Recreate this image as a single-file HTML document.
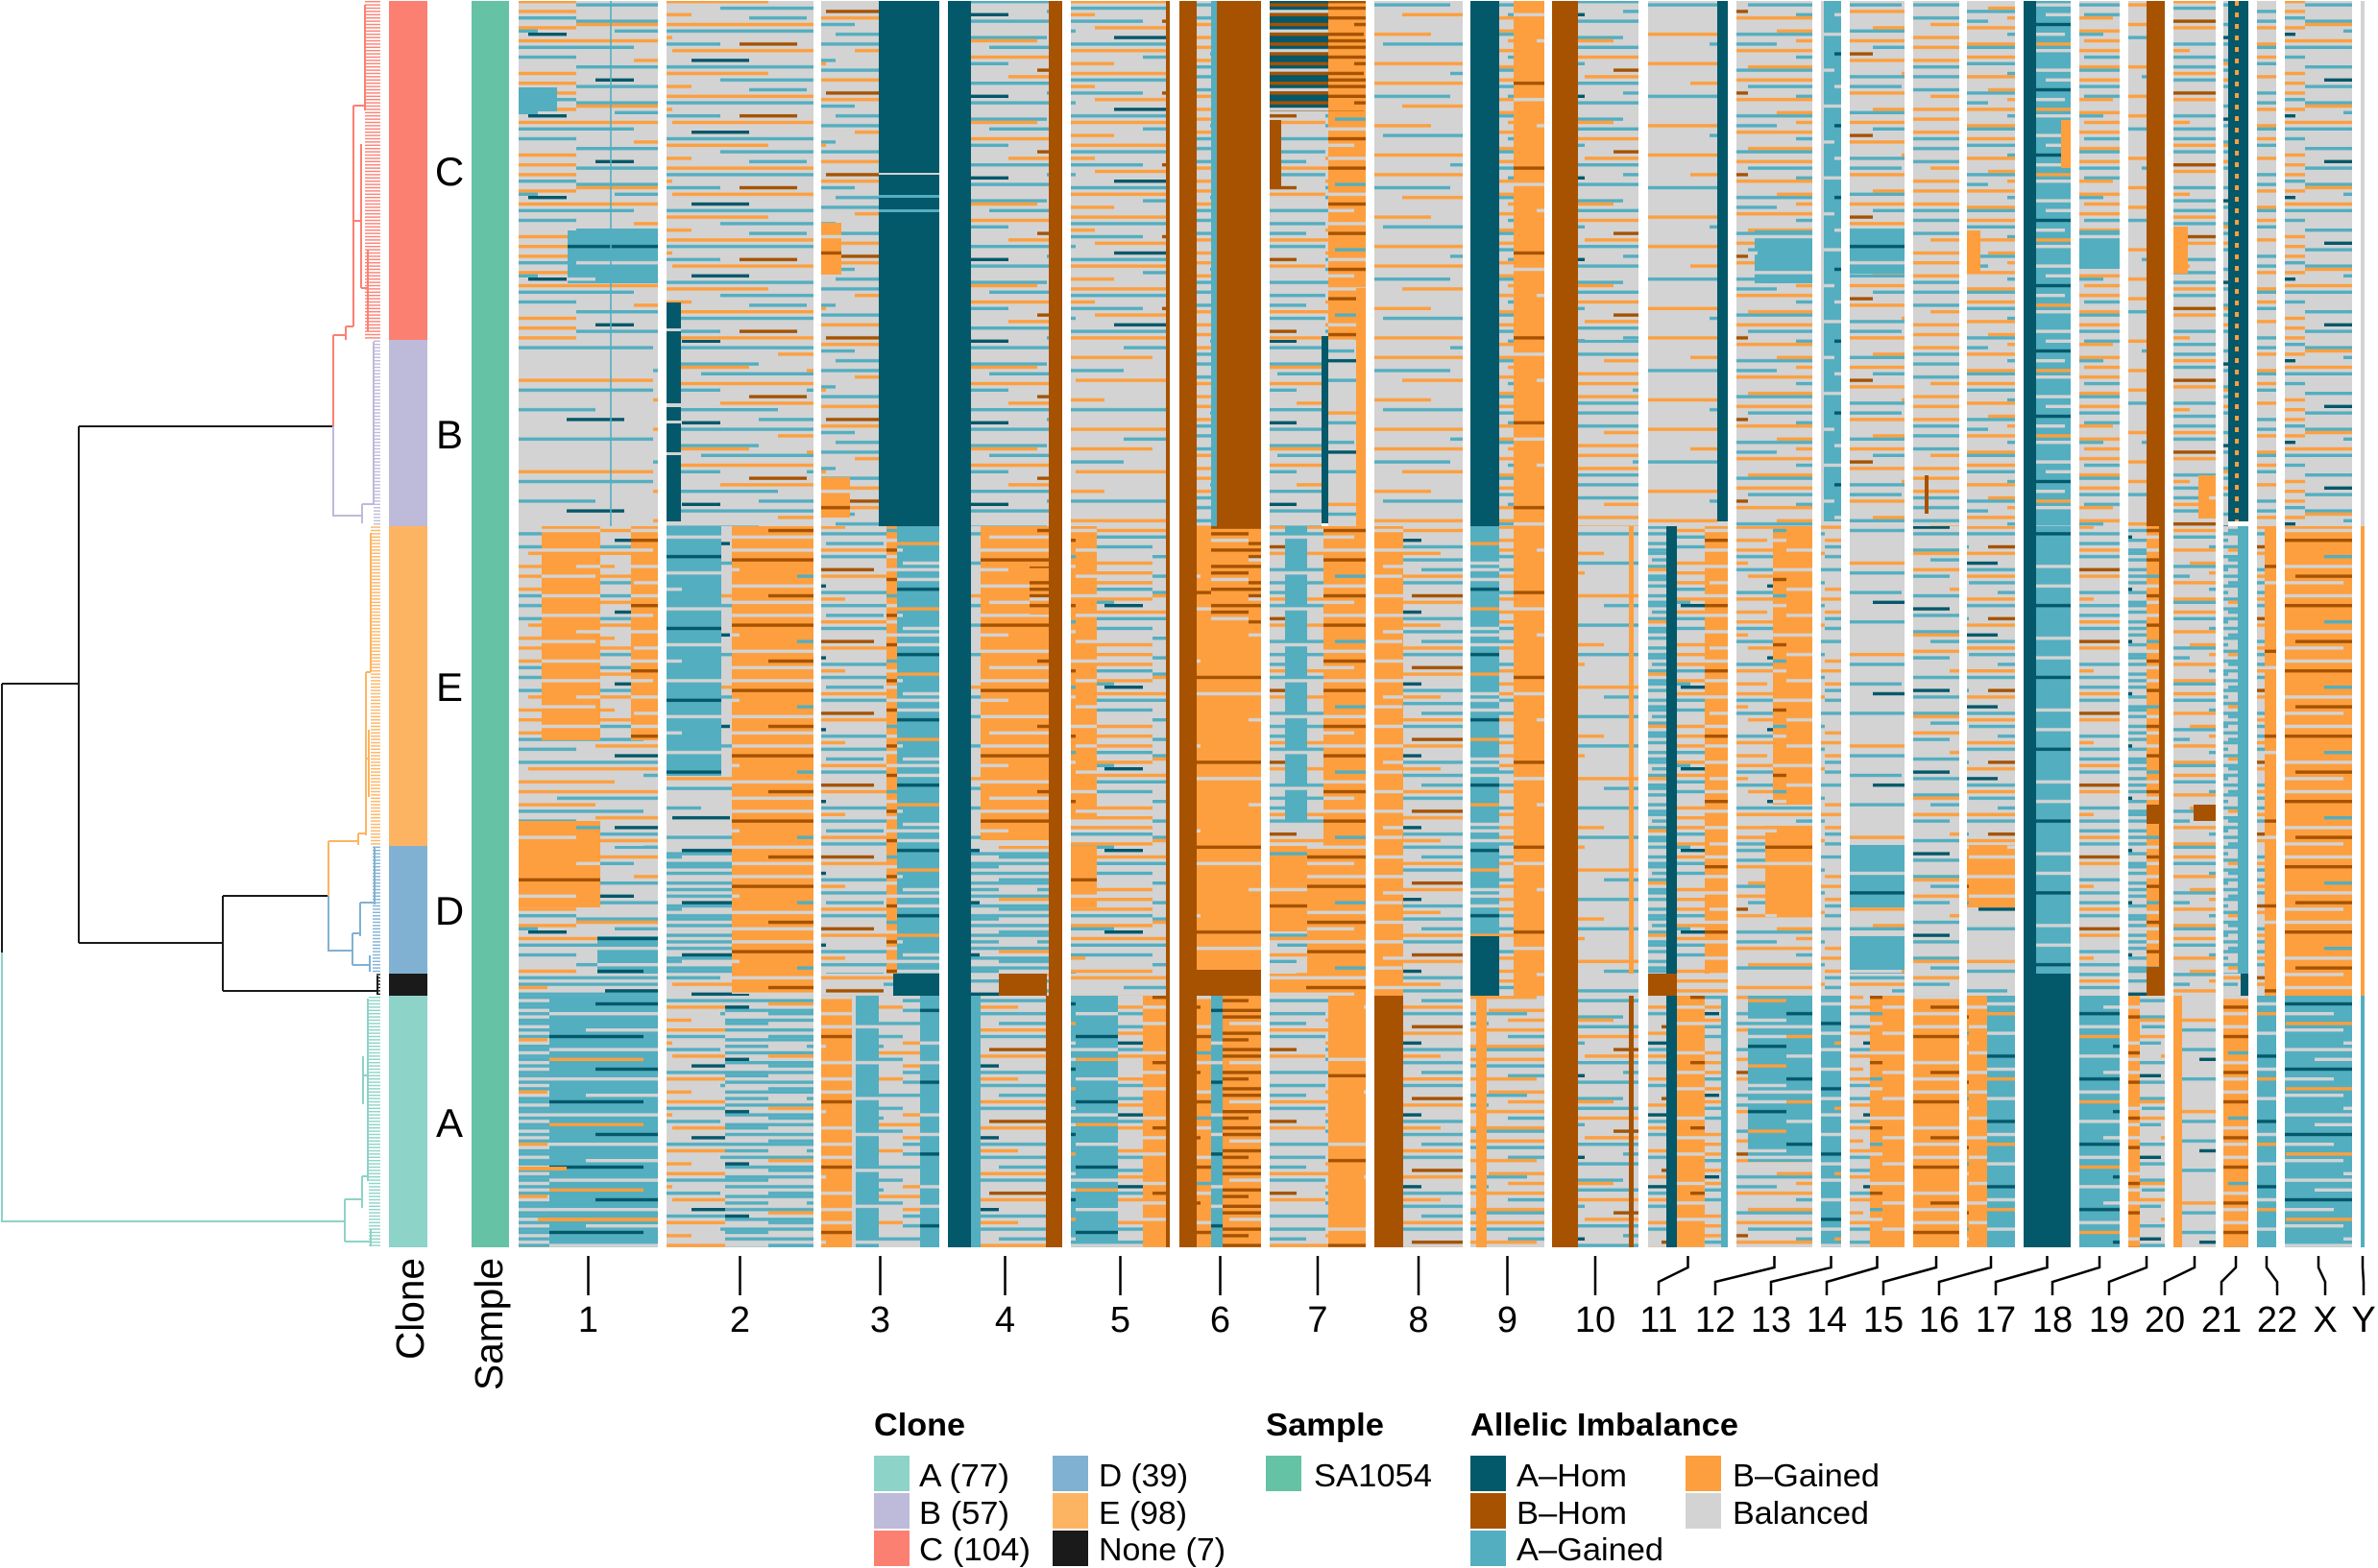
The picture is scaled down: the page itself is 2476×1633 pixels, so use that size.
<!DOCTYPE html>
<html><head><meta charset="utf-8"><style>
html,body{margin:0;padding:0;background:#fff;}
svg{display:block;}
text{font-family:"Liberation Sans",Arial,Helvetica,sans-serif;fill:#000;}
</style></head><body>
<svg xmlns="http://www.w3.org/2000/svg" xmlns:xlink="http://www.w3.org/1999/xlink" width="2476" height="1633" viewBox="0 0 2476 1633">
<defs>
<pattern id="g1" width="300" height="85" patternUnits="userSpaceOnUse">
<rect width="300" height="85" fill="#d3d3d3"/>
<rect x="200" y="0" width="100" height="3.4" fill="#fd9f3e"/>
<rect x="0" y="3.4" width="180" height="3.4" fill="#53aec0"/>
<rect x="120" y="10.2" width="180" height="3.4" fill="#fd9f3e"/>
<rect x="200" y="17" width="100" height="3.4" fill="#53aec0"/>
<rect x="0" y="20.4" width="100" height="3.4" fill="#53aec0"/>
<rect x="0" y="23.8" width="90" height="3.4" fill="#fd9f3e"/>
<rect x="150" y="27.2" width="150" height="3.4" fill="#fd9f3e"/>
<rect x="40" y="30.6" width="220" height="3.4" fill="#53aec0"/>
<rect x="250" y="34" width="40" height="3.4" fill="#03586a"/>
<rect x="0" y="40.8" width="300" height="3.4" fill="#fd9f3e"/>
<rect x="0" y="47.6" width="60" height="3.4" fill="#53aec0"/>
<rect x="150" y="47.6" width="150" height="3.4" fill="#53aec0"/>
<rect x="90" y="54.4" width="60" height="3.4" fill="#a65200"/>
<rect x="200" y="57.8" width="100" height="3.4" fill="#53aec0"/>
<rect x="60" y="61.2" width="170" height="3.4" fill="#fd9f3e"/>
<rect x="0" y="68" width="120" height="3.4" fill="#53aec0"/>
<rect x="180" y="74.8" width="120" height="3.4" fill="#fd9f3e"/>
<rect x="100" y="78.2" width="120" height="3.4" fill="#53aec0"/>
<rect x="20" y="81.6" width="40" height="3.4" fill="#03586a"/>
</pattern>
<pattern id="g2" width="260" height="74.8" patternUnits="userSpaceOnUse">
<rect width="260" height="74.8" fill="#d3d3d3"/>
<rect x="0" y="0" width="260" height="3.4" fill="#fd9f3e"/>
<rect x="60" y="6.8" width="200" height="3.4" fill="#53aec0"/>
<rect x="0" y="13.6" width="100" height="3.4" fill="#fd9f3e"/>
<rect x="0" y="20.4" width="150" height="3.4" fill="#53aec0"/>
<rect x="170" y="20.4" width="60" height="3.4" fill="#a65200"/>
<rect x="100" y="27.2" width="160" height="3.4" fill="#fd9f3e"/>
<rect x="0" y="30.6" width="80" height="3.4" fill="#53aec0"/>
<rect x="120" y="37.4" width="60" height="3.4" fill="#03586a"/>
<rect x="0" y="44.2" width="260" height="3.4" fill="#53aec0"/>
<rect x="30" y="51" width="170" height="3.4" fill="#fd9f3e"/>
<rect x="150" y="57.8" width="110" height="3.4" fill="#53aec0"/>
<rect x="0" y="64.6" width="120" height="3.4" fill="#fd9f3e"/>
<rect x="180" y="68" width="60" height="3.4" fill="#53aec0"/>
</pattern>
<pattern id="g3" width="340" height="95.2" patternUnits="userSpaceOnUse">
<rect width="340" height="95.2" fill="#d3d3d3"/>
<rect x="0" y="3.4" width="150" height="3.4" fill="#53aec0"/>
<rect x="100" y="13.6" width="240" height="3.4" fill="#fd9f3e"/>
<rect x="200" y="23.8" width="140" height="3.4" fill="#53aec0"/>
<rect x="0" y="34" width="130" height="3.4" fill="#fd9f3e"/>
<rect x="80" y="44.2" width="200" height="3.4" fill="#53aec0"/>
<rect x="250" y="54.4" width="60" height="3.4" fill="#03586a"/>
<rect x="0" y="64.6" width="200" height="3.4" fill="#fd9f3e"/>
<rect x="150" y="74.8" width="190" height="3.4" fill="#53aec0"/>
<rect x="60" y="85" width="120" height="3.4" fill="#fd9f3e"/>
</pattern>
<pattern id="o1" width="280" height="68" patternUnits="userSpaceOnUse">
<rect width="280" height="68" fill="#fd9f3e"/>
<rect x="0" y="6.8" width="280" height="3.4" fill="#d3d3d3"/>
<rect x="80" y="17" width="200" height="3.4" fill="#a65200"/>
<rect x="0" y="27.2" width="120" height="3.4" fill="#d3d3d3"/>
<rect x="180" y="34" width="100" height="3.4" fill="#53aec0"/>
<rect x="40" y="44.2" width="240" height="3.4" fill="#d3d3d3"/>
<rect x="0" y="54.4" width="60" height="3.4" fill="#d3d3d3"/>
<rect x="150" y="54.4" width="80" height="3.4" fill="#a65200"/>
<rect x="100" y="61.2" width="100" height="3.4" fill="#d3d3d3"/>
</pattern>
<pattern id="o2" width="300" height="88.4" patternUnits="userSpaceOnUse">
<rect width="300" height="88.4" fill="#fd9f3e"/>
<rect x="0" y="13.6" width="150" height="3.4" fill="#d3d3d3"/>
<rect x="0" y="30.6" width="300" height="3.4" fill="#a65200"/>
<rect x="120" y="47.6" width="180" height="3.4" fill="#d3d3d3"/>
<rect x="0" y="64.6" width="80" height="3.4" fill="#53aec0"/>
<rect x="200" y="74.8" width="100" height="3.4" fill="#d3d3d3"/>
</pattern>
<pattern id="b1" width="260" height="40.8" patternUnits="userSpaceOnUse">
<rect width="260" height="40.8" fill="#fd9f3e"/>
<rect x="0" y="0" width="260" height="3.4" fill="#a65200"/>
<rect x="0" y="6.8" width="170" height="3.4" fill="#a65200"/>
<rect x="0" y="10.2" width="80" height="3.4" fill="#d3d3d3"/>
<rect x="0" y="17" width="260" height="3.4" fill="#a65200"/>
<rect x="110" y="23.8" width="150" height="3.4" fill="#a65200"/>
<rect x="150" y="30.6" width="110" height="3.4" fill="#d3d3d3"/>
<rect x="0" y="34" width="120" height="3.4" fill="#a65200"/>
</pattern>
<pattern id="t1" width="280" height="68" patternUnits="userSpaceOnUse">
<rect width="280" height="68" fill="#53aec0"/>
<rect x="0" y="3.4" width="280" height="3.4" fill="#d3d3d3"/>
<rect x="0" y="13.6" width="110" height="3.4" fill="#fd9f3e"/>
<rect x="170" y="13.6" width="110" height="3.4" fill="#d3d3d3"/>
<rect x="60" y="23.8" width="220" height="3.4" fill="#03586a"/>
<rect x="0" y="34" width="190" height="3.4" fill="#d3d3d3"/>
<rect x="140" y="44.2" width="140" height="3.4" fill="#fd9f3e"/>
<rect x="50" y="51" width="150" height="3.4" fill="#d3d3d3"/>
<rect x="0" y="57.8" width="110" height="3.4" fill="#03586a"/>
<rect x="200" y="64.6" width="80" height="3.4" fill="#d3d3d3"/>
</pattern>
<pattern id="t2" width="260" height="74.8" patternUnits="userSpaceOnUse">
<rect width="260" height="74.8" fill="#53aec0"/>
<rect x="0" y="10.2" width="260" height="3.4" fill="#d3d3d3"/>
<rect x="0" y="30.6" width="170" height="3.4" fill="#03586a"/>
<rect x="80" y="47.6" width="180" height="3.4" fill="#d3d3d3"/>
<rect x="0" y="64.6" width="100" height="3.4" fill="#d3d3d3"/>
</pattern>
<pattern id="m1" width="240" height="54.4" patternUnits="userSpaceOnUse">
<rect width="240" height="54.4" fill="#d3d3d3"/>
<rect x="0" y="0" width="240" height="3.4" fill="#53aec0"/>
<rect x="0" y="3.4" width="150" height="3.4" fill="#53aec0"/>
<rect x="0" y="10.2" width="240" height="3.4" fill="#53aec0"/>
<rect x="60" y="13.6" width="180" height="3.4" fill="#53aec0"/>
<rect x="0" y="20.4" width="240" height="3.4" fill="#53aec0"/>
<rect x="0" y="27.2" width="100" height="3.4" fill="#53aec0"/>
<rect x="0" y="30.6" width="240" height="3.4" fill="#53aec0"/>
<rect x="40" y="37.4" width="200" height="3.4" fill="#53aec0"/>
<rect x="0" y="44.2" width="240" height="3.4" fill="#53aec0"/>
<rect x="0" y="47.6" width="90" height="3.4" fill="#fd9f3e"/>
<rect x="150" y="51" width="70" height="3.4" fill="#03586a"/>
</pattern>
<pattern id="k1" width="300" height="20.4" patternUnits="userSpaceOnUse">
<rect width="300" height="20.4" fill="#03586a"/>
<rect x="0" y="3.4" width="300" height="3.4" fill="#a65200"/>
<rect x="60" y="10.2" width="240" height="3.4" fill="#d3d3d3"/>
<rect x="0" y="13.6" width="190" height="3.4" fill="#a65200"/>
</pattern>
<pattern id="g1a" xlink:href="#g1" patternTransform="translate(90,17)"/>
<pattern id="g1b" xlink:href="#g1" patternTransform="translate(170,40.8)"/>
<pattern id="g2a" xlink:href="#g2" patternTransform="translate(80,23.8)"/>
<pattern id="g2b" xlink:href="#g2" patternTransform="translate(160,47.6)"/>
<pattern id="g3a" xlink:href="#g3" patternTransform="translate(110,34)"/>
<pattern id="g3b" xlink:href="#g3" patternTransform="translate(220,61.2)"/>
<pattern id="o1a" xlink:href="#o1" patternTransform="translate(90,20.4)"/>
<pattern id="o1b" xlink:href="#o1" patternTransform="translate(180,40.8)"/>
<pattern id="o2a" xlink:href="#o2" patternTransform="translate(100,27.2)"/>
<pattern id="o2b" xlink:href="#o2" patternTransform="translate(200,54.4)"/>
<pattern id="t1a" xlink:href="#t1" patternTransform="translate(90,20.4)"/>
<pattern id="t1b" xlink:href="#t1" patternTransform="translate(180,44.2)"/>
<pattern id="t2a" xlink:href="#t2" patternTransform="translate(90,23.8)"/>
<pattern id="t2b" xlink:href="#t2" patternTransform="translate(170,47.6)"/>
<pattern id="m1a" xlink:href="#m1" patternTransform="translate(80,17)"/>
<pattern id="m1b" xlink:href="#m1" patternTransform="translate(160,34)"/>
<pattern id="b1a" xlink:href="#b1" patternTransform="translate(90,13.6)"/>
<pattern id="lC" width="20" height="3.4" patternUnits="userSpaceOnUse"><rect y="1" width="20" height="1.4" fill="#fb8072"/></pattern>
<pattern id="lB" width="20" height="3.4" patternUnits="userSpaceOnUse"><rect y="1" width="20" height="1.4" fill="#bebada"/></pattern>
<pattern id="lE" width="20" height="3.4" patternUnits="userSpaceOnUse"><rect y="1" width="20" height="1.4" fill="#fdb462"/></pattern>
<pattern id="lD" width="20" height="3.4" patternUnits="userSpaceOnUse"><rect y="1" width="20" height="1.4" fill="#80b1d3"/></pattern>
<pattern id="lA" width="20" height="3.4" patternUnits="userSpaceOnUse"><rect y="1" width="20" height="1.4" fill="#8dd3c7"/></pattern>
<pattern id="lN" width="20" height="3.4" patternUnits="userSpaceOnUse"><rect y="1" width="20" height="1.4" fill="#1a1a1a"/></pattern>
</defs>

<!-- Dendrogram -->
<g fill="none" stroke-width="2">
<path stroke="#1a1a1a" d="M2,712 V992 M2,712 H82 M82,444 V982 M82,444 H347 M82,982 H232 M232,933 V1032 M232,933 H342 M232,1032 H393"/>
<path stroke="#8dd3c7" d="M2,992 V1272 H359 M359,1249 V1293 M359,1249 H377 M377,1225 V1258 M377,1225 H383 M383,1040 V1230 M359,1293 H386 M386,1280 V1298 M383,1120 H378 M378,1100 V1150"/>
<path stroke="#fb8072" d="M347,349 V444 M347,349 H360 M360,340 V354 M360,340 H368 M368,110 V340 M368,110 H380 M380,5 V115 M368,230 H376 M376,150 V300 M376,300 H383 M383,260 V345"/>
<path stroke="#bebada" d="M347,444 V537 H377 M377,525 V545 M377,525 H389 M389,356 V525"/>
<path stroke="#fdb462" d="M342,876 V933 M342,876 H373 M373,868 V880 M373,868 H381 M381,700 V870 M381,700 H386 M386,555 V700 M381,790 H384 M384,760 V830"/>
<path stroke="#80b1d3" d="M342,933 V990 H367 M367,972 V1005 M367,972 H375 M375,940 V975 M375,940 H390 M390,883 V942 M367,1005 H385 M385,995 V1012"/>
<path stroke="#1a1a1a" d="M393,1016 V1035"/>
</g>
<rect x="380" y="1" width="16" height="353" fill="url(#lC)"/>
<rect x="389" y="354" width="7" height="194" fill="url(#lB)"/>
<rect x="386" y="548" width="10" height="333" fill="url(#lE)"/>
<rect x="388" y="881" width="8" height="133" fill="url(#lD)"/>
<rect x="392" y="1014" width="4" height="23" fill="url(#lN)"/>
<rect x="384" y="1037" width="12" height="262" fill="url(#lA)"/>

<!-- Clone bar -->
<rect x="405" y="1" width="40" height="353" fill="#fb8072"/>
<rect x="405" y="354" width="40" height="194" fill="#bebada"/>
<rect x="405" y="548" width="40" height="333" fill="#fdb462"/>
<rect x="405" y="881" width="40" height="133" fill="#80b1d3"/>
<rect x="405" y="1014" width="40" height="23" fill="#1a1a1a"/>
<rect x="405" y="1037" width="40" height="262" fill="#8dd3c7"/>
<!-- Sample bar -->
<rect x="491" y="1" width="39" height="1298" fill="#66c2a5"/>

<!-- Clone letters -->
<g font-size="42" text-anchor="middle">
<text x="468" y="193">C</text>
<text x="468" y="467">B</text>
<text x="468" y="730">E</text>
<text x="468" y="963">D</text>
<text x="468" y="1184">A</text>
</g>

<!-- Heatmap -->
<g>
<!-- chr1 -->
<rect x="540" y="1" width="145" height="353" fill="url(#g1)"/>
<rect x="540" y="91" width="40" height="25" fill="#53aec0"/>
<rect x="591" y="240" width="94" height="55" fill="url(#t2)"/>
<rect x="540" y="354" width="145" height="194" fill="url(#g3)"/>
<rect x="635" y="1" width="2" height="547" fill="#53aec0" opacity=".8"/>
<rect x="540" y="548" width="145" height="333" fill="url(#g2)"/>
<rect x="564" y="548" width="61" height="223" fill="url(#o1)"/>
<rect x="657" y="548" width="28" height="223" fill="url(#o1)"/>
<rect x="540" y="881" width="145" height="133" fill="url(#g1)"/>
<rect x="540" y="855" width="85" height="90" fill="url(#o2)"/>
<rect x="622" y="975" width="63" height="39" fill="url(#t1)"/>
<rect x="540" y="1014" width="145" height="23" fill="url(#m1)"/>
<rect x="540" y="1037" width="145" height="262" fill="url(#t1)"/>
<rect x="540" y="1037" width="32" height="262" fill="url(#m1)"/>
<rect x="540" y="1215" width="50" height="4" fill="#fd9f3e"/>
<rect x="560" y="1268" width="125" height="4" fill="#fd9f3e"/>
<!-- chr2 -->
<rect x="694" y="1" width="153" height="353" fill="url(#g2a)"/>
<rect x="694" y="354" width="153" height="194" fill="url(#g1a)"/>
<rect x="694" y="315" width="15" height="228" fill="#03586a"/>
<rect x="694" y="342" width="15" height="3" fill="#d3d3d3"/>
<rect x="694" y="420" width="15" height="4" fill="#d3d3d3"/>
<rect x="694" y="438" width="15" height="3" fill="#d3d3d3"/>
<rect x="694" y="471" width="15" height="3" fill="#d3d3d3"/>
<rect x="694" y="548" width="153" height="333" fill="url(#g3a)"/>
<rect x="694" y="881" width="153" height="133" fill="url(#m1a)"/>
<rect x="694" y="1014" width="153" height="23" fill="url(#g2a)"/>
<rect x="694" y="548" width="57" height="260" fill="url(#t2a)"/>
<rect x="762" y="548" width="85" height="487" fill="url(#o1a)"/>
<rect x="694" y="1037" width="61" height="262" fill="url(#g2a)"/>
<rect x="755" y="1037" width="92" height="262" fill="url(#m1a)"/>
<!-- chr3 -->
<rect x="855" y="1" width="60" height="547" fill="url(#g1b)"/>
<rect x="855" y="232" width="21" height="54" fill="url(#o2b)"/>
<rect x="855" y="497" width="30" height="42" fill="url(#o2b)"/>
<rect x="915" y="1" width="63" height="547" fill="#03586a"/>
<rect x="915" y="180" width="63" height="2" fill="#d3d3d3"/>
<rect x="915" y="203" width="63" height="3" fill="#53aec0"/>
<rect x="915" y="218" width="63" height="3" fill="#53aec0"/>
<rect x="855" y="548" width="68" height="466" fill="url(#g2b)"/>
<rect x="923" y="548" width="11" height="466" fill="url(#o1b)"/>
<rect x="934" y="548" width="44" height="466" fill="url(#t1b)"/>
<rect x="855" y="1014" width="75" height="23" fill="url(#g1b)"/>
<rect x="930" y="1014" width="48" height="23" fill="#03586a"/>
<rect x="855" y="1037" width="32" height="262" fill="url(#o1b)"/>
<rect x="887" y="1037" width="4" height="262" fill="#d3d3d3"/>
<rect x="891" y="1037" width="24" height="262" fill="url(#t2b)"/>
<rect x="915" y="1037" width="43" height="262" fill="url(#g2b)"/>
<rect x="958" y="1037" width="20" height="262" fill="url(#t2b)"/>
<!-- chr4 -->
<rect x="987" y="1" width="24" height="1298" fill="#03586a"/>
<rect x="1011" y="1" width="81" height="547" fill="url(#g1a)"/>
<rect x="1011" y="548" width="81" height="333" fill="url(#g3a)"/>
<rect x="1021" y="548" width="71" height="327" fill="url(#o1a)"/>
<rect x="1072" y="590" width="20" height="50" fill="url(#b1)"/>
<rect x="1011" y="881" width="81" height="133" fill="url(#m1a)"/>
<rect x="1011" y="1014" width="81" height="23" fill="url(#g1a)"/>
<rect x="1040" y="1014" width="50" height="23" fill="#a65200"/>
<rect x="1011" y="1037" width="10" height="262" fill="#53aec0"/>
<rect x="1021" y="1037" width="68" height="262" fill="url(#g2a)"/>
<rect x="1092" y="1" width="14" height="1036" fill="#a65200"/>
<rect x="1089" y="1037" width="17" height="262" fill="#a65200"/>
<!-- chr5 -->
<rect x="1115" y="1" width="99" height="353" fill="url(#g2)"/>
<rect x="1115" y="354" width="99" height="194" fill="url(#g3)"/>
<rect x="1115" y="548" width="99" height="466" fill="url(#g1)"/>
<rect x="1115" y="548" width="27" height="302" fill="url(#o1)"/>
<rect x="1115" y="881" width="27" height="64" fill="url(#o2)"/>
<rect x="1115" y="1014" width="99" height="23" fill="url(#g3)"/>
<rect x="1115" y="1037" width="49" height="262" fill="url(#t1)"/>
<rect x="1164" y="1037" width="26" height="262" fill="url(#g2)"/>
<rect x="1190" y="1037" width="24" height="262" fill="url(#o1)"/>
<rect x="1214" y="1" width="4" height="1298" fill="#a65200"/>
<!-- chr6 -->
<rect x="1228" y="1" width="18" height="1298" fill="#a65200"/>
<rect x="1246" y="1" width="15" height="547" fill="url(#g2b)"/>
<rect x="1261" y="1" width="6" height="547" fill="#53aec0"/>
<rect x="1267" y="1" width="46" height="547" fill="#a65200"/>
<rect x="1246" y="548" width="67" height="466" fill="url(#o2b)"/>
<rect x="1261" y="548" width="52" height="102" fill="url(#b1)"/>
<rect x="1246" y="1010" width="67" height="27" fill="#a65200"/>
<rect x="1246" y="1037" width="15" height="262" fill="url(#o1b)"/>
<rect x="1261" y="1037" width="12" height="262" fill="url(#t2b)"/>
<rect x="1273" y="1037" width="40" height="262" fill="url(#b1a)"/>
<!-- chr7 -->
<rect x="1322" y="1" width="61" height="353" fill="url(#g2a)"/>
<rect x="1383" y="1" width="39" height="547" fill="url(#o1a)"/>
<rect x="1322" y="1" width="61" height="115" fill="url(#k1)"/>
<rect x="1383" y="1" width="39" height="115" fill="url(#b1)"/>
<rect x="1322" y="125" width="12" height="70" fill="#a65200"/>
<rect x="1322" y="354" width="54" height="194" fill="url(#g1a)"/>
<rect x="1376" y="350" width="7" height="195" fill="#03586a"/>
<rect x="1383" y="354" width="29" height="194" fill="url(#g3a)"/>
<rect x="1412" y="300" width="10" height="248" fill="#fd9f3e"/>
<rect x="1322" y="548" width="100" height="333" fill="url(#g2a)"/>
<rect x="1338" y="548" width="23" height="312" fill="url(#t2a)"/>
<rect x="1378" y="548" width="44" height="333" fill="url(#o1a)"/>
<rect x="1322" y="881" width="100" height="133" fill="url(#g1a)"/>
<rect x="1322" y="881" width="39" height="89" fill="url(#o2a)"/>
<rect x="1361" y="881" width="61" height="133" fill="url(#o1a)"/>
<rect x="1322" y="1014" width="100" height="23" fill="url(#o1a)"/>
<rect x="1322" y="1037" width="61" height="262" fill="url(#g2a)"/>
<rect x="1383" y="1037" width="39" height="262" fill="url(#o2a)"/>
<!-- chr8 -->
<rect x="1431" y="1" width="92" height="547" fill="url(#g3)"/>
<rect x="1431" y="548" width="92" height="489" fill="url(#g2)"/>
<rect x="1431" y="548" width="30" height="489" fill="url(#o1)"/>
<rect x="1431" y="1037" width="30" height="262" fill="#a65200"/>
<rect x="1461" y="1037" width="62" height="262" fill="url(#g2)"/>
<!-- chr9 -->
<rect x="1531" y="1" width="30" height="547" fill="#03586a"/>
<rect x="1561" y="1" width="15" height="547" fill="url(#g1b)"/>
<rect x="1576" y="1" width="32" height="1036" fill="url(#o2b)"/>
<rect x="1531" y="548" width="30" height="427" fill="url(#t1b)"/>
<rect x="1561" y="548" width="15" height="489" fill="url(#g2b)"/>
<rect x="1531" y="975" width="30" height="62" fill="#03586a"/>
<rect x="1531" y="1037" width="77" height="262" fill="url(#g1b)"/>
<rect x="1537" y="1037" width="11" height="262" fill="#fd9f3e"/>
<!-- chr10 -->
<rect x="1616" y="1" width="27" height="1298" fill="#a65200"/>
<rect x="1643" y="1" width="63" height="353" fill="url(#g1a)"/>
<rect x="1643" y="354" width="63" height="194" fill="url(#g2a)"/>
<rect x="1643" y="548" width="63" height="489" fill="url(#g3a)"/>
<rect x="1643" y="1037" width="63" height="262" fill="url(#g1a)"/>
<rect x="1696" y="548" width="5" height="466" fill="#fd9f3e"/>
<rect x="1696" y="1037" width="5" height="262" fill="#a65200"/>
<!-- chr11 -->
<rect x="1716" y="1" width="72" height="547" fill="url(#g3)"/>
<rect x="1788" y="1" width="11" height="542" fill="#03586a"/>
<rect x="1788" y="543" width="11" height="5" fill="#d3d3d3"/>
<rect x="1716" y="548" width="19" height="466" fill="url(#m1)"/>
<rect x="1735" y="548" width="11" height="466" fill="#03586a"/>
<rect x="1746" y="548" width="29" height="466" fill="url(#g1)"/>
<rect x="1775" y="548" width="24" height="466" fill="url(#o1)"/>
<rect x="1716" y="1014" width="30" height="23" fill="#a65200"/>
<rect x="1746" y="1014" width="53" height="23" fill="url(#g1)"/>
<rect x="1716" y="1037" width="19" height="262" fill="url(#g2)"/>
<rect x="1735" y="1037" width="11" height="262" fill="#03586a"/>
<rect x="1746" y="1037" width="29" height="262" fill="url(#o1)"/>
<rect x="1775" y="1037" width="17" height="262" fill="url(#g1)"/>
<rect x="1792" y="1037" width="7" height="262" fill="#53aec0"/>
<!-- chr12 -->
<rect x="1808" y="1" width="79" height="547" fill="url(#g1b)"/>
<rect x="1827" y="240" width="60" height="55" fill="url(#t2b)"/>
<rect x="1808" y="548" width="79" height="333" fill="url(#g2b)"/>
<rect x="1846" y="548" width="41" height="290" fill="url(#o1b)"/>
<rect x="1808" y="881" width="79" height="133" fill="url(#g1b)"/>
<rect x="1838" y="860" width="49" height="95" fill="url(#o2b)"/>
<rect x="1808" y="1014" width="79" height="23" fill="url(#g3b)"/>
<rect x="1808" y="1037" width="79" height="262" fill="url(#g1b)"/>
<rect x="1820" y="1037" width="67" height="173" fill="url(#t1b)"/>
<!-- chr13 -->
<rect x="1896" y="1" width="21" height="542" fill="url(#t2a)"/>
<rect x="1896" y="1" width="3" height="542" fill="#d3d3d3"/>
<rect x="1896" y="543" width="21" height="494" fill="url(#g2a)"/>
<rect x="1896" y="1037" width="21" height="262" fill="url(#t1a)"/>
<!-- chr14 -->
<rect x="1926" y="1" width="57" height="547" fill="url(#g1)"/>
<rect x="1926" y="236" width="57" height="49" fill="url(#t2)"/>
<rect x="1926" y="548" width="57" height="333" fill="url(#g3)"/>
<rect x="1926" y="881" width="57" height="133" fill="url(#g1)"/>
<rect x="1926" y="880" width="57" height="65" fill="url(#t2)"/>
<rect x="1926" y="975" width="57" height="35" fill="#53aec0"/>
<rect x="1926" y="1014" width="57" height="23" fill="url(#g2)"/>
<rect x="1926" y="1037" width="21" height="262" fill="url(#g2)"/>
<rect x="1947" y="1037" width="36" height="262" fill="url(#o1)"/>
<!-- chr15 -->
<rect x="1992" y="1" width="48" height="547" fill="url(#g2b)"/>
<rect x="2004" y="495" width="4" height="40" fill="#a65200"/>
<rect x="1992" y="548" width="48" height="489" fill="url(#g1b)"/>
<rect x="1992" y="1037" width="48" height="262" fill="url(#o1b)"/>
<!-- chr16 -->
<rect x="2048" y="1" width="50" height="547" fill="url(#g1a)"/>
<rect x="2048" y="240" width="14" height="45" fill="#fd9f3e"/>
<rect x="2048" y="548" width="50" height="333" fill="url(#g2a)"/>
<rect x="2048" y="881" width="50" height="156" fill="url(#g3a)"/>
<rect x="2048" y="880" width="50" height="65" fill="url(#o1a)"/>
<rect x="2048" y="1037" width="21" height="262" fill="url(#o1a)"/>
<rect x="2069" y="1037" width="29" height="262" fill="url(#t1a)"/>
<!-- chr17 -->
<rect x="2107" y="1" width="13" height="1298" fill="#03586a"/>
<rect x="2120" y="1" width="36" height="547" fill="url(#t1)"/>
<rect x="2146" y="125" width="10" height="50" fill="#fd9f3e"/>
<rect x="2120" y="548" width="36" height="466" fill="url(#t2)"/>
<rect x="2107" y="1014" width="49" height="285" fill="#03586a"/>
<!-- chr18 -->
<rect x="2165" y="1" width="42" height="547" fill="url(#g1b)"/>
<rect x="2165" y="240" width="42" height="40" fill="url(#t2b)"/>
<rect x="2165" y="548" width="42" height="489" fill="url(#g2b)"/>
<rect x="2165" y="1037" width="42" height="262" fill="url(#t1b)"/>
<!-- chr19 -->
<rect x="2216" y="1" width="19" height="547" fill="url(#g3a)"/>
<rect x="2235" y="1" width="19" height="547" fill="#a65200"/>
<rect x="2216" y="548" width="19" height="466" fill="url(#m1a)"/>
<rect x="2235" y="548" width="13" height="466" fill="url(#o1a)"/>
<rect x="2248" y="548" width="6" height="466" fill="#a65200"/>
<rect x="2235" y="838" width="19" height="20" fill="#a65200"/>
<rect x="2216" y="1014" width="19" height="23" fill="url(#g1a)"/>
<rect x="2235" y="1007" width="19" height="30" fill="#a65200"/>
<rect x="2216" y="1037" width="38" height="262" fill="url(#g1a)"/>
<rect x="2216" y="1037" width="12" height="262" fill="url(#o1a)"/>
<!-- chr20 -->
<rect x="2263" y="1" width="44" height="547" fill="url(#g2)"/>
<rect x="2263" y="236" width="15" height="49" fill="url(#o2)"/>
<rect x="2289" y="495" width="18" height="45" fill="url(#o2)"/>
<rect x="2263" y="548" width="44" height="489" fill="url(#g1)"/>
<rect x="2284" y="838" width="23" height="17" fill="#a65200"/>
<rect x="2263" y="1037" width="44" height="262" fill="url(#g3)"/>
<rect x="2263" y="1037" width="9" height="262" fill="#fd9f3e"/>
<!-- chr21 -->
<rect x="2315" y="1" width="5" height="547" fill="url(#g1b)"/>
<rect x="2320" y="1" width="21" height="542" fill="#03586a"/>
<line x1="2329" y1="1" x2="2329" y2="543" stroke="#fd9f3e" stroke-width="4" stroke-dasharray="5 7"/>
<rect x="2315" y="548" width="15" height="466" fill="url(#m1b)"/>
<rect x="2330" y="548" width="11" height="466" fill="#53aec0"/>
<rect x="2315" y="1014" width="18" height="23" fill="url(#g1b)"/>
<rect x="2333" y="1014" width="8" height="23" fill="#03586a"/>
<rect x="2315" y="1037" width="26" height="262" fill="url(#o1b)"/>
<!-- chr22 -->
<rect x="2350" y="1" width="20" height="547" fill="url(#g1a)"/>
<rect x="2350" y="548" width="8" height="489" fill="url(#g2a)"/>
<rect x="2358" y="548" width="12" height="489" fill="url(#o2a)"/>
<rect x="2350" y="1037" width="20" height="262" fill="url(#t1a)"/>
<!-- X -->
<rect x="2379" y="1" width="70" height="547" fill="url(#g1)"/>
<rect x="2379" y="548" width="70" height="489" fill="url(#o1)"/>
<rect x="2379" y="1037" width="70" height="262" fill="url(#t1)"/>
<!-- Y -->
<rect x="2458" y="1" width="4" height="547" fill="#d3d3d3"/>
<rect x="2458" y="548" width="4" height="489" fill="#fd9f3e"/>
<rect x="2458" y="1037" width="4" height="262" fill="#53aec0"/>
</g>

<!-- Chromosome ticks -->
<g fill="none" stroke="#000" stroke-width="2.5">
<path d="M612.5,1308 V1349 M770.5,1308 V1349 M916.5,1308 V1349 M1046.5,1308 V1349 M1166.5,1308 V1349 M1270.5,1308 V1349 M1372,1308 V1349 M1477,1308 V1349 M1569.5,1308 V1349 M1661,1308 V1349"/>
<path d="M1757.5,1308 V1320 L1727,1335 V1349
M1847.5,1308 V1320 L1786,1335 V1349
M1906.5,1308 V1320 L1844,1335 V1349
M1954.5,1308 V1320 L1902,1335 V1349
M2016,1308 V1320 L1961,1335 V1349
M2073,1308 V1320 L2019,1335 V1349
M2131.5,1308 V1320 L2078,1335 V1349
M2186,1308 V1320 L2137,1335 V1349
M2235,1308 V1320 L2196,1335 V1349
M2285,1308 V1320 L2254,1335 V1349
M2328,1308 V1320 L2313,1335 V1349
M2360,1308 V1320 L2371,1335 V1349
M2414,1308 V1320 L2421,1335 V1349
M2460,1308 V1320 L2461,1335 V1349"/>
</g>
<g font-size="38" text-anchor="middle">
<text x="612.5" y="1387">1</text>
<text x="770.5" y="1387">2</text>
<text x="916.5" y="1387">3</text>
<text x="1046.5" y="1387">4</text>
<text x="1166.5" y="1387">5</text>
<text x="1270.5" y="1387">6</text>
<text x="1372" y="1387">7</text>
<text x="1477" y="1387">8</text>
<text x="1569.5" y="1387">9</text>
<text x="1661" y="1387">10</text>
<text x="1727" y="1387">11</text>
<text x="1786" y="1387">12</text>
<text x="1844" y="1387">13</text>
<text x="1902" y="1387">14</text>
<text x="1961" y="1387">15</text>
<text x="2019" y="1387">16</text>
<text x="2078" y="1387">17</text>
<text x="2137" y="1387">18</text>
<text x="2196" y="1387">19</text>
<text x="2254" y="1387">20</text>
<text x="2313" y="1387">21</text>
<text x="2371" y="1387">22</text>
<text x="2421" y="1387">X</text>
<text x="2461" y="1387">Y</text>
</g>

<!-- Rotated labels -->
<text font-size="41" transform="translate(441,1416) rotate(-90)" textLength="106" lengthAdjust="spacingAndGlyphs">Clone</text>
<text font-size="41" transform="translate(523,1448) rotate(-90)" textLength="138" lengthAdjust="spacingAndGlyphs">Sample</text>

<!-- Legend -->
<g font-size="33" font-weight="bold">
<text x="910" y="1495" textLength="95" lengthAdjust="spacingAndGlyphs">Clone</text>
<text x="1318" y="1495" textLength="123" lengthAdjust="spacingAndGlyphs">Sample</text>
<text x="1531" y="1495" textLength="279" lengthAdjust="spacingAndGlyphs">Allelic Imbalance</text>
</g>
<g>
<rect x="910" y="1516" width="37" height="37" fill="#8dd3c7"/>
<rect x="910" y="1555" width="37" height="37" fill="#bebada"/>
<rect x="910" y="1594" width="37" height="37" fill="#fb8072"/>
<rect x="1096" y="1516" width="37" height="37" fill="#80b1d3"/>
<rect x="1096" y="1555" width="37" height="37" fill="#fdb462"/>
<rect x="1096" y="1594" width="37" height="37" fill="#1a1a1a"/>
<rect x="1318" y="1516" width="37" height="37" fill="#66c2a5"/>
<rect x="1531" y="1516" width="37" height="37" fill="#03586a"/>
<rect x="1531" y="1555" width="37" height="37" fill="#a65200"/>
<rect x="1531" y="1594" width="37" height="37" fill="#53aec0"/>
<rect x="1755" y="1516" width="37" height="37" fill="#fd9f3e"/>
<rect x="1755" y="1555" width="37" height="37" fill="#d3d3d3"/>
</g>
<g font-size="33">
<text x="957" y="1548" textLength="94" lengthAdjust="spacingAndGlyphs">A (77)</text>
<text x="957" y="1587" textLength="94" lengthAdjust="spacingAndGlyphs">B (57)</text>
<text x="957" y="1625" textLength="116" lengthAdjust="spacingAndGlyphs">C (104)</text>
<text x="1144" y="1548" textLength="93" lengthAdjust="spacingAndGlyphs">D (39)</text>
<text x="1144" y="1587" textLength="92" lengthAdjust="spacingAndGlyphs">E (98)</text>
<text x="1144" y="1625" textLength="132" lengthAdjust="spacingAndGlyphs">None (7)</text>
<text x="1368" y="1548" textLength="123" lengthAdjust="spacingAndGlyphs">SA1054</text>
<text x="1579" y="1548" textLength="115" lengthAdjust="spacingAndGlyphs">A–Hom</text>
<text x="1579" y="1587" textLength="115" lengthAdjust="spacingAndGlyphs">B–Hom</text>
<text x="1579" y="1625" textLength="153" lengthAdjust="spacingAndGlyphs">A–Gained</text>
<text x="1804" y="1548" textLength="153" lengthAdjust="spacingAndGlyphs">B–Gained</text>
<text x="1804" y="1587" textLength="142" lengthAdjust="spacingAndGlyphs">Balanced</text>
</g>
</svg>
</body></html>
